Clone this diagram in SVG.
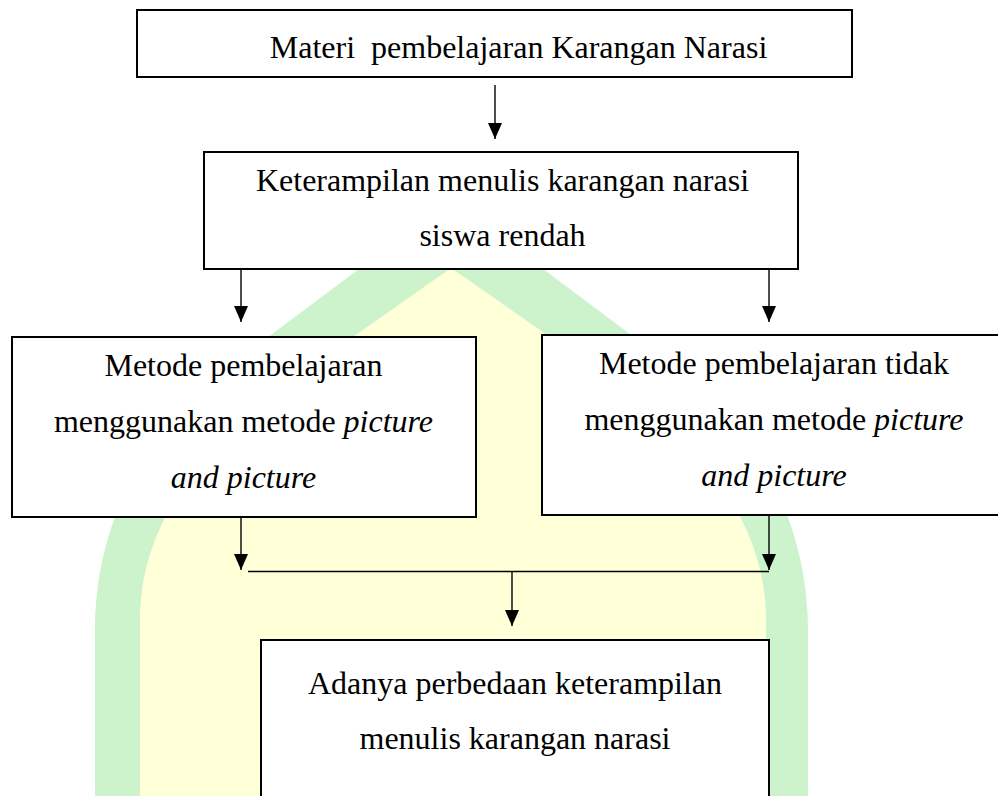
<svg xmlns="http://www.w3.org/2000/svg" width="998" height="796" viewBox="0 0 998 796">
  <defs>
    <style>
      .box { fill: #ffffff; stroke: #000000; stroke-width: 2; }
      .lbl { font-family: "Liberation Serif", "Times New Roman", serif; font-size: 32px; fill: #000000; text-anchor: middle; }
      .it { font-style: italic; }
      .conn { stroke: #000000; stroke-width: 1.4; fill: none; }
    </style>
    <marker id="arrow" markerUnits="userSpaceOnUse" markerWidth="16" markerHeight="14" viewBox="0 0 16 14" refX="16" refY="7" orient="auto">
      <path d="M0,0 L16,7 L0,14 Z" fill="#000000"/>
    </marker>
  </defs>

  <rect x="0" y="0" width="998" height="796" fill="#ffffff"/>

  <g id="watermark">
    <path d="M451,200 L268,337 C200,386 92,470 95,640 L95,800 L808,800 L808,640 C811,470 702,386 634,337 Z" fill="#cdf3cd"/>
    <path d="M451,268 L353,337 C290,382 140,470 140,620 L140,800 L766,800 L766,620 C766,470 614,382 550,337 Z" fill="#ffffd8"/>
  </g>

  <g id="connectors">
    <line class="conn" x1="495" y1="85" x2="495" y2="139" marker-end="url(#arrow)"/>
    <line class="conn" x1="241" y1="269" x2="241" y2="322" marker-end="url(#arrow)"/>
    <line class="conn" x1="769" y1="269" x2="769" y2="322" marker-end="url(#arrow)"/>
    <line class="conn" x1="241" y1="517" x2="241" y2="570" marker-end="url(#arrow)"/>
    <line class="conn" x1="769" y1="515" x2="769" y2="570" marker-end="url(#arrow)"/>
    <line class="conn" x1="248" y1="571.5" x2="769" y2="571.5" stroke-width="1.8"/>
    <line class="conn" x1="512" y1="571.5" x2="512" y2="626" marker-end="url(#arrow)"/>
  </g>

  <g id="node-materi">
    <rect class="box" x="137" y="10" width="715" height="67"/>
    <text class="lbl" x="518.5" y="58" xml:space="preserve">Materi  pembelajaran Karangan Narasi</text>
  </g>

  <g id="node-keterampilan">
    <rect class="box" x="204" y="152" width="594" height="117"/>
    <text class="lbl" x="502.5" y="191">Keterampilan menulis karangan narasi</text>
    <text class="lbl" x="502.5" y="246">siswa rendah</text>
  </g>

  <g id="node-metode-pap">
    <rect class="box" x="12" y="337" width="464" height="180"/>
    <text class="lbl" x="243.5" y="376">Metode pembelajaran</text>
    <text class="lbl" x="243.5" y="432">menggunakan metode <tspan class="it">picture</tspan></text>
    <text class="lbl it" x="243.5" y="488">and picture</text>
  </g>

  <g id="node-metode-tidak">
    <rect class="box" x="542" y="335" width="470" height="180"/>
    <text class="lbl" x="774" y="374">Metode pembelajaran tidak</text>
    <text class="lbl" x="774" y="430">menggunakan metode <tspan class="it">picture</tspan></text>
    <text class="lbl it" x="774" y="486">and picture</text>
  </g>

  <g id="node-perbedaan">
    <rect class="box" x="261" y="640" width="508" height="200"/>
    <text class="lbl" x="515" y="694">Adanya perbedaan keterampilan</text>
    <text class="lbl" x="515" y="749">menulis karangan narasi</text>
  </g>
</svg>
